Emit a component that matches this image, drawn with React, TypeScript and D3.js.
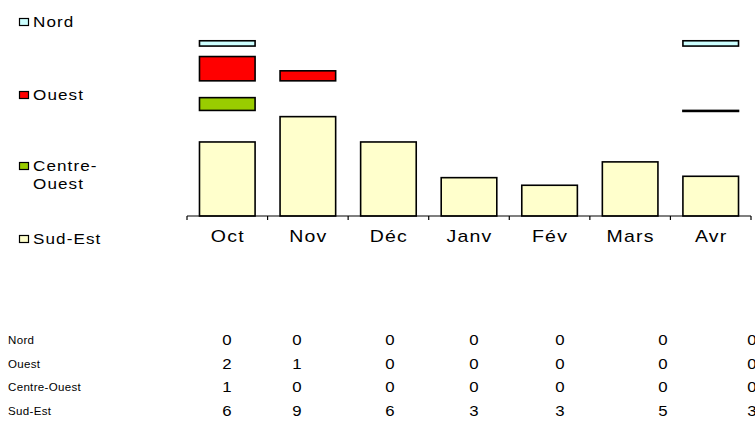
import * as d3 from "d3";
import { useEffect, useRef } from "react";

// Months on the x axis
const months = ["Oct", "Nov", "Déc", "Janv", "Fév", "Mars", "Avr"];

// Series values (the table shows them rounded)
const sudEst = [6.43, 8.63, 6.43, 3.33, 2.67, 4.7, 3.45];
const centreOuest = [1.11, null, null, null, null, null, 0];
const ouest = [2.11, 0.87, null, null, null, null, null];
const nord = [0.46, null, null, null, null, null, 0.46];

// Rounded values shown in the data table
const tableNord = [0, 0, 0, 0, 0, 0, 0];
const tableOuest = [2, 1, 0, 0, 0, 0, 0];
const tableCentreOuest = [1, 0, 0, 0, 0, 0, 0];
const tableSudEst = [6, 9, 6, 3, 3, 5, 3];

// Each region sits in its own band of the value axis (panel-like stacking)
const seriesNames = ["Nord", "Ouest", "Centre-Ouest", "Sud-Est"];
const seriesBase = [14.76, 11.74, 9.17, 0];
const yMax = 15.2;

const FONT = "'Liberation Sans', Arial, sans-serif";

// text that looks horizontally stretched, like the old Excel export
function wideText(
  parent: d3.Selection<SVGGElement, unknown, null, undefined>,
  x: number,
  y: number,
  txt: string,
  size: number,
  sx: number,
  spacing: number,
  anchor = "start",
) {
  parent
    .append("text")
    .attr("transform", `translate(${x},${y}) scale(${sx},1)`)
    .attr("text-anchor", anchor)
    .style("font-family", FONT)
    .style("font-size", `${size}px`)
    .style("letter-spacing", `${spacing}px`)
    .text(txt);
}

export default function App() {
  const svgRef = useRef<SVGSVGElement>(null);

  useEffect(() => {
    if (!svgRef.current) return;
    d3.select(svgRef.current).selectAll("*").remove();
    const svg = d3.select(svgRef.current);

    const series = [
      { name: "Nord", values: nord, color: "#CCFFFF" },
      { name: "Ouest", values: ouest, color: "#FF0000" },
      { name: "Centre-Ouest", values: centreOuest, color: "#99CC00" },
      { name: "Sud-Est", values: sudEst, color: "#FFFFCC" },
    ];

    const plot = { left: 187, right: 751, top: 41, bottom: 216 };

    const xScale = d3
      .scaleBand<string>()
      .domain(months)
      .range([plot.left, plot.right])
      .paddingInner(0.31)
      .paddingOuter(0.155);

    const yScale = d3.scaleLinear().domain([0, yMax]).range([plot.bottom, plot.top]);

    // Bars (a zero value still shows as a flat outlined bar)
    series.forEach((s, si) => {
      const base = seriesBase[si];
      svg
        .append("g")
        .selectAll("rect")
        .data(s.values.map((v, i) => ({ v, m: months[i] })).filter((d) => d.v !== null))
        .enter()
        .append("rect")
        .attr("x", (d) => xScale(d.m)!)
        .attr("width", xScale.bandwidth())
        .attr("y", (d) => yScale(base + (d.v as number)))
        .attr("height", (d) => Math.max(1, yScale(base) - yScale(base + (d.v as number))))
        .attr("fill", (d) => ((d.v as number) === 0 ? "#000" : s.color))
        .attr("stroke", "#000")
        .attr("stroke-width", 1.6);
    });

    // X axis: line with ticks between categories
    const step = xScale.step();
    const axis = svg.append("g");
    axis
      .append("line")
      .attr("x1", plot.left)
      .attr("x2", plot.right)
      .attr("y1", plot.bottom)
      .attr("y2", plot.bottom)
      .attr("stroke", "#000")
      .attr("stroke-width", 1.2);
    d3.range(months.length + 1).forEach((i) => {
      axis
        .append("line")
        .attr("x1", plot.left + i * step)
        .attr("x2", plot.left + i * step)
        .attr("y1", plot.bottom)
        .attr("y2", plot.bottom + 4)
        .attr("stroke", "#000")
        .attr("stroke-width", 1.2);
    });
    months.forEach((m) => {
      wideText(axis, xScale(m)! + xScale.bandwidth() / 2 + 0.5, 242, m, 16, 1.22, 1, "middle");
    });

    // Legend
    const legendItems = [
      { lines: ["Nord"], y: 27, color: "#CCFFFF" },
      { lines: ["Ouest"], y: 100, color: "#FF0000" },
      { lines: ["Centre-", "Ouest"], y: 171, color: "#99CC00" },
      { lines: ["Sud-Est"], y: 244, color: "#FFFFCC" },
    ];
    const legend = svg.append("g");
    legendItems.forEach((it) => {
      legend
        .append("rect")
        .attr("x", 19.5)
        .attr("y", it.y - 8.5)
        .attr("width", 9)
        .attr("height", 7)
        .attr("fill", it.color)
        .attr("stroke", "#000")
        .attr("stroke-width", 1.2);
      it.lines.forEach((l, li) => {
        wideText(legend, 33, it.y + li * 18, l, 14, 1.22, 0.9);
      });
    });

    // Data table
    const tableRows = [tableNord, tableOuest, tableCentreOuest, tableSudEst];
    const tableColX = [227, 297, 390, 474, 560, 663, 752];
    const table = svg.append("g");
    tableRows.forEach((row, ri) => {
      const y = 344 + ri * 23.7;
      wideText(table, 8, y, seriesNames[ri], 11, 1.05, 0.3);
      row.forEach((v, ci) => {
        wideText(table, tableColX[ci], y + 1, String(v), 14, 1.2, 0, "middle");
      });
    });
  }, []);

  return (
    <svg
      ref={svgRef}
      width={755}
      height={425}
      style={{ position: "absolute", left: 0, top: 0, background: "#fff" }}
    />
  );
}
